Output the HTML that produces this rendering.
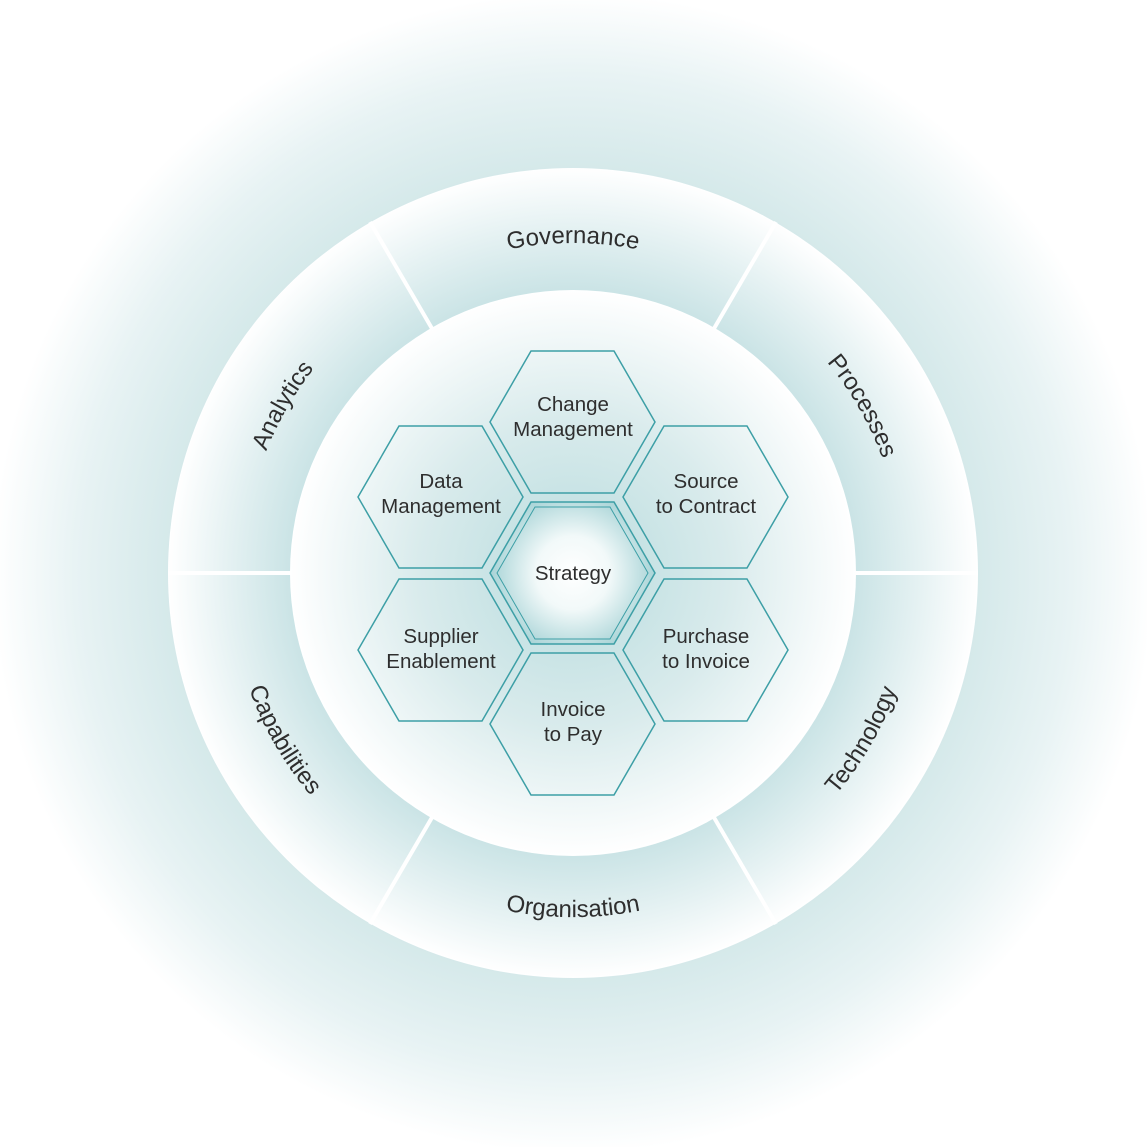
<!DOCTYPE html>
<html><head><meta charset="utf-8"><style>
html,body{margin:0;padding:0;background:#fff;}
svg{display:block;}
text{font-family:"Liberation Sans",Arial,sans-serif;fill:#2e2e2e;}
</style></head><body>
<svg width="1147" height="1147" viewBox="0 0 1147 1147" xmlns="http://www.w3.org/2000/svg">
<defs>
<radialGradient id="bg" cx="573" cy="573" r="580" gradientUnits="userSpaceOnUse">
<stop offset="0.68" stop-color="#d3e8e9"/>
<stop offset="0.86" stop-color="#e8f3f4"/>
<stop offset="1" stop-color="#ffffff"/>
</radialGradient>
<radialGradient id="ring" cx="573" cy="573" r="405" gradientUnits="userSpaceOnUse">
<stop offset="0.69" stop-color="#c9e3e5"/>
<stop offset="0.86" stop-color="#e6f2f3"/>
<stop offset="1" stop-color="#ffffff"/>
</radialGradient>
<radialGradient id="inner" cx="573" cy="573" r="283" gradientUnits="userSpaceOnUse">
<stop offset="0" stop-color="#b8dcde"/>
<stop offset="0.55" stop-color="#d9ebec"/>
<stop offset="1" stop-color="#ffffff"/>
</radialGradient>
<radialGradient id="strat" cx="573" cy="573" r="82" gradientUnits="userSpaceOnUse">
<stop offset="0" stop-color="#ffffff"/>
<stop offset="0.45" stop-color="#f2f9f9"/>
<stop offset="1" stop-color="#a9d4d7"/>
</radialGradient>
<path id="cw" d="M 243 573 A 330 330 0 1 1 903 573 A 330 330 0 1 1 243 573"/>
<path id="ccw" d="M 229 573 A 344 344 0 1 0 917 573 A 344 344 0 1 0 229 573"/>
</defs>
<rect width="1147" height="1147" fill="url(#bg)"/>
<circle cx="573" cy="573" r="405" fill="url(#ring)"/>
<g stroke="#ffffff" stroke-width="4">
<line x1="168" y1="573" x2="293" y2="573"/>
<line x1="853" y1="573" x2="978" y2="573"/>
<line x1="370" y1="222" x2="434" y2="332"/>
<line x1="776" y1="222" x2="712" y2="332"/>
<line x1="370" y1="924" x2="434" y2="814"/>
<line x1="776" y1="924" x2="712" y2="814"/>
</g>
<circle cx="573" cy="573" r="283" fill="url(#inner)"/>
<g font-size="24">
<text><textPath href="#cw" startOffset="25%" text-anchor="middle">Governance</textPath></text>
<text><textPath href="#cw" startOffset="8.33%" text-anchor="middle">Analytics</textPath></text>
<text><textPath href="#cw" startOffset="41.67%" text-anchor="middle">Processes</textPath></text>
<text><textPath href="#ccw" startOffset="25%" text-anchor="middle">Organisation</textPath></text>
<text><textPath href="#ccw" startOffset="8.33%" text-anchor="middle">Capabilities</textPath></text>
<text><textPath href="#ccw" startOffset="41.67%" text-anchor="middle">Technology</textPath></text>
</g>
<g fill="none" stroke="#3d9fa6" stroke-width="1.5">
<polygon points="490,422 531,351 614,351 655,422 614,493 531,493"/>
<polygon points="358,497 399,426 482,426 523,497 482,568 399,568"/>
<polygon points="623,497 664,426 747,426 788,497 747,568 664,568"/>
<polygon points="358,650 399,579 482,579 523,650 482,721 399,721"/>
<polygon points="623,650 664,579 747,579 788,650 747,721 664,721"/>
<polygon points="490,724 531,653 614,653 655,724 614,795 531,795"/>
</g>
<polygon points="490,573 531,502 614,502 655,573 614,644 531,644" fill="url(#strat)" stroke="#3d9fa6" stroke-width="1.5"/>
<polygon points="497,573 535,507 610,507 648,573 610,639 535,639" fill="none" stroke="#3d9fa6" stroke-width="1"/>
<g font-size="20.5" text-anchor="middle">
<text x="573" y="411">Change</text><text x="573" y="436">Management</text>
<text x="441" y="488">Data</text><text x="441" y="513">Management</text>
<text x="706" y="488">Source</text><text x="706" y="513">to Contract</text>
<text x="573" y="580">Strategy</text>
<text x="441" y="643">Supplier</text><text x="441" y="668">Enablement</text>
<text x="706" y="643">Purchase</text><text x="706" y="668">to Invoice</text>
<text x="573" y="716">Invoice</text><text x="573" y="741">to Pay</text>
</g>
</svg>
</body></html>
